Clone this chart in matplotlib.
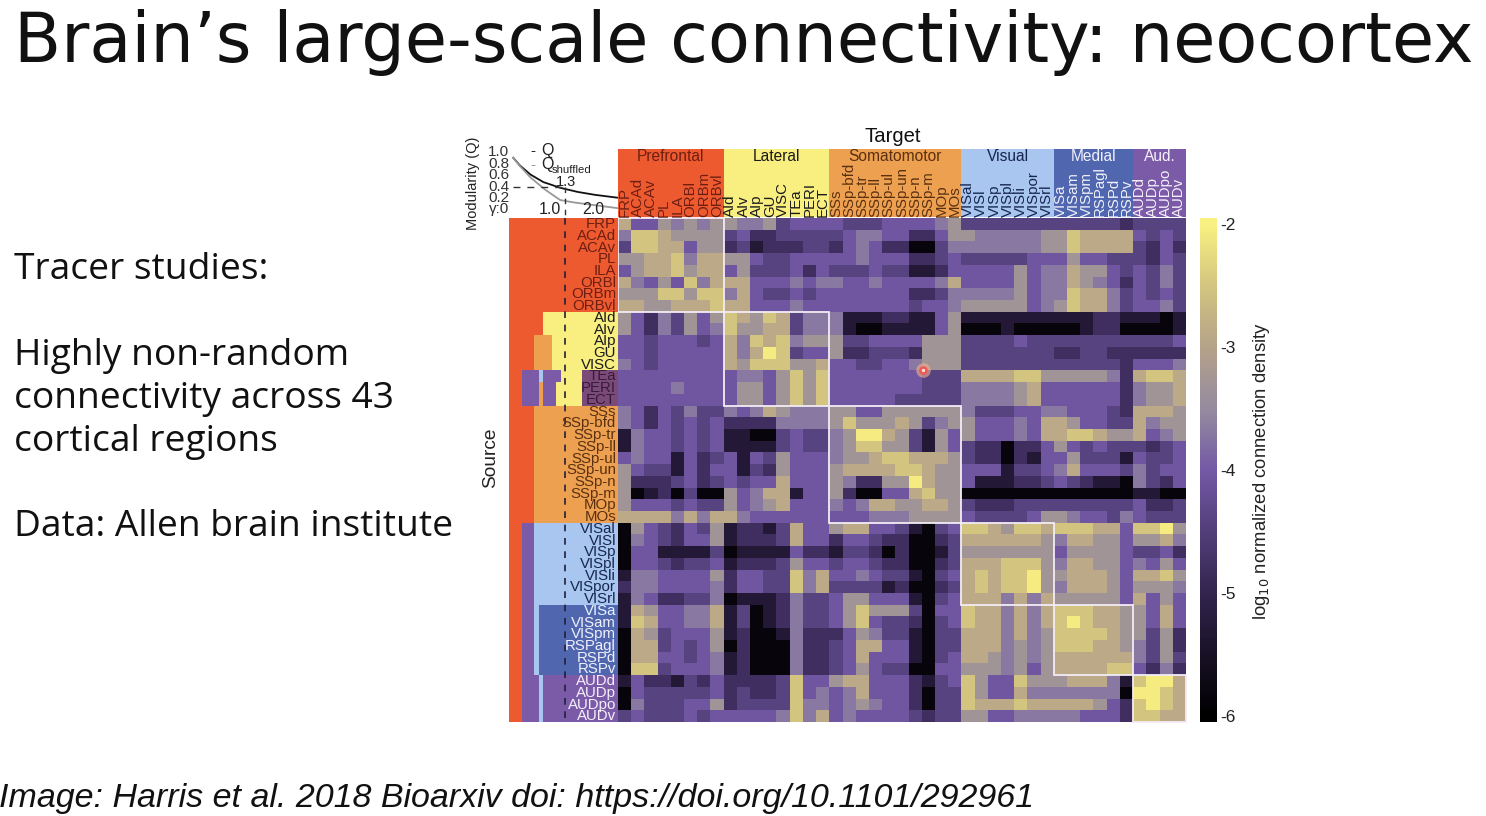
import numpy as np
import matplotlib
matplotlib.use('Agg')
import matplotlib.pyplot as plt
from matplotlib.colors import LinearSegmentedColormap
from matplotlib.patches import Rectangle

W, H = 1486, 816
OUTFILE = 'out.png'

# area labels, one list per module
prefrontal = ['FRP', 'ACAd', 'ACAv', 'PL', 'ILA', 'ORBl', 'ORBm', 'ORBvl']
lateral = ['AId', 'AIv', 'AIp', 'GU', 'VISC', 'TEa', 'PERI', 'ECT']
somatomotor = ['SSs', 'SSp-bfd', 'SSp-tr', 'SSp-ll', 'SSp-ul', 'SSp-un', 'SSp-n', 'SSp-m', 'MOp', 'MOs']
visual = ['VISal', 'VISl', 'VISp', 'VISpl', 'VISli', 'VISpor', 'VISrl']
medial = ['VISa', 'VISam', 'VISpm', 'RSPagl', 'RSPd', 'RSPv']
auditory = ['AUDd', 'AUDp', 'AUDpo', 'AUDv']
module_names = ['Prefrontal', 'Lateral', 'Somatomotor', 'Visual', 'Medial', 'Aud.']

# log10 density for each digit used in the rows below
level_values = [-5.85, -5.3, -4.8, -4.42, -4.05, -3.7, -3.3, -2.9, -2.5, -2.05]

# connection density per source row, target columns grouped by module
prefrontal_rows = [
    '74465656 65563444 4333444456 3333333 333332 3333',
    '58876666 34223333 3455442246 6555556 687777 4343',
    '38877466 23122233 2454220035 5555556 687777 3242',
    '66778577 66433444 4454442234 3333344 464433 3243',
    '46778677 46333424 3334331124 4444645 576643 4353',
    '75464857 77444545 5445444457 4444645 576542 4353',
    '66688688 57433434 4444442235 5555645 587753 4343',
    '77667778 77444544 4444443445 6666645 687753 4453',
]
lateral_rows = [
    '64253646 87687355 5111221146 1111111 111221 1101',
    '64253645 86677355 5100111146 0001000 001220 0001',
    '44344434 75878566 6334444666 3333433 333333 3334',
    '44344444 75798344 6223332666 3333333 223322 2222',
    '54344444 76888667 4433445666 3333333 333332 4445',
    '44444444 45546868 4444444333 7777886 666652 7887',
    '44445444 46646868 4444444333 5555674 444442 5667',
    '44444444 46646868 4444433333 5555674 444442 5667',
]
somatomotor_rows = [
    '54243533 54576555 6644666666 5333445 544432 7776',
    '54243434 22225555 6866676356 6444547 764433 7566',
    '15443434 11003433 5699763164 6444547 788766 7456',
    '15443434 11113433 5688663164 3220224 643433 3234',
    '45441423 41436444 5667887776 3220214 463331 4334',
    '64331424 41326444 6777788766 4441334 574443 5344',
    '62223423 43447444 6522669766 4111223 432110 5324',
    '60120300 64577144 6200447866 0000000 000000 1100',
    '64443433 64567444 5457766776 3222333 333333 4223',
    '77775757 75444444 4445556666 4333346 654435 4333',
]
visual_rows = [
    '06432436 12213744 6774431034 8876887 888774 8896',
    '05432446 12223744 2443220023 7777776 577664 6675',
    '04411113 01111422 1332020013 6666666 466664 3342',
    '04432334 12223644 3443220023 7778886 577664 5464',
    '15544446 24433857 4454331034 7878896 677764 7786',
    '25544445 24433857 3333120023 7878896 577764 6665',
    '15422335 01112533 4664441034 7775757 666664 7464',
]
medial_rows = [
    '17644557 13012533 4686663044 8775757 888776 6474',
    '18744557 13012533 4684332034 8775757 898776 6474',
    '07634446 12001522 2465331033 7775756 888876 6362',
    '07734346 02000522 3477441033 7775656 888776 5362',
    '07744345 12000522 3474441034 7765656 777777 5363',
    '08834445 12000522 3464330044 6665646 777788 4252',
]
auditory_rows = [
    '14221324 22223844 6774442134 8644866 677751 8997',
    '04333334 23223845 4574442033 8644755 555550 9987',
    '05333446 23333855 4565442033 8777877 777642 8987',
    '34333434 44445857 4544443233 6644555 554442 8877',
]

# modularity against resolution parameter gamma
gamma_q = [0.1, 0.25, 0.5, 0.8, 1.2, 1.6, 2.0, 2.53]
q_real = [0.90, 0.77, 0.61, 0.48, 0.38, 0.31, 0.26, 0.21]
gamma_shuffled = [0.1, 0.25, 0.5, 0.84, 1.19, 1.5, 1.8, 2.53]
q_shuffled = [0.90, 0.76, 0.56, 0.35, 0.17, 0.13, 0.10, 0.03]

colorbar_ticks = [-2, -3, -4, -5, -6]

RED = '#ee5a30'
YELLOW = '#f9ef80'
ORANGE = '#eda050'
LIGHT_BLUE = '#a8c6f0'
BLUE = '#5067b0'
PURPLE = '#7b5ba8'
MAUVE = '#7a4a78'

module_colors = [RED, YELLOW, ORANGE, LIGHT_BLUE, BLUE, PURPLE]
module_text = ['#6e1f12', '#1a1a1a', '#5a3010', '#16264f', '#f0f0fa', '#f4f0fa']

# community colours along the dendrogram: (first row, last row, gamma from, gamma to, colour)
dendro_bands = [
    (0, 7, 0.0, 2.53, RED),
    (8, 9, 0.0, 0.79, RED),
    (8, 9, 0.79, 2.53, YELLOW),
    (10, 12, 0.0, 0.58, RED),
    (10, 12, 0.58, 1.0, ORANGE),
    (10, 12, 1.0, 2.53, YELLOW),
    (13, 13, 0.0, 0.3, RED),
    (13, 13, 0.3, 0.7, PURPLE),
    (13, 13, 0.7, 0.79, LIGHT_BLUE),
    (13, 13, 0.79, 1.2, PURPLE),
    (13, 13, 1.2, 1.7, YELLOW),
    (14, 15, 0.0, 0.3, RED),
    (14, 15, 0.3, 0.7, PURPLE),
    (14, 15, 0.7, 0.79, ORANGE),
    (14, 15, 0.79, 1.09, PURPLE),
    (14, 15, 1.09, 1.7, YELLOW),
    (13, 15, 1.7, 2.53, MAUVE),
    (16, 25, 0.0, 0.58, RED),
    (16, 25, 0.58, 2.53, ORANGE),
    (26, 38, 0.0, 0.3, RED),
    (26, 38, 0.3, 0.58, PURPLE),
    (26, 38, 0.58, 2.53, LIGHT_BLUE),
    (33, 38, 0.7, 2.53, BLUE),
    (39, 42, 0.0, 0.3, RED),
    (39, 42, 0.3, 0.7, PURPLE),
    (39, 42, 0.7, 0.79, LIGHT_BLUE),
    (39, 42, 0.79, 2.53, PURPLE),
]


def px_axes(fig, x0, y0, x1, y1, **kwargs):
    # axes placed by pixel box, y measured from the top
    return fig.add_axes([x0 / W, 1 - y1 / H, (x1 - x0) / W, (y1 - y0) / H], **kwargs)


def px_text(fig, x, y, s, **kwargs):
    return fig.text(x / W, 1 - y / H, s, **kwargs)


modules = [prefrontal, lateral, somatomotor, visual, medial, auditory]
sizes = [len(m) for m in modules]
edges = np.cumsum([0] + sizes)
areas = sum(modules, [])
all_rows = prefrontal_rows + lateral_rows + somatomotor_rows + visual_rows + medial_rows + auditory_rows
levels = np.array([[int(c) for c in r.replace(' ', '')] for r in all_rows])
density = np.array(level_values)[levels]

cmap = LinearSegmentedColormap.from_list('density', [
    (0.00, '#000000'), (0.25, '#33254f'), (0.50, '#7459a6'),
    (0.62, '#948aa0'), (0.75, '#b5a28a'), (0.88, '#d4c680'), (1.00, '#f9f082'),
])

plt.rcParams['font.family'] = ['Liberation Sans', 'DejaVu Sans']
fig = plt.figure(figsize=(W / 100, H / 100), dpi=100, facecolor='white')

# connection matrix
ax = px_axes(fig, 618, 218, 1186, 722)
im = ax.imshow(density, cmap=cmap, vmin=-6, vmax=-2, aspect='auto', interpolation='nearest',
               extent=(0, len(areas), len(areas), 0))
ax.axis('off')
for i in range(len(sizes)):
    ax.add_patch(Rectangle((edges[i], edges[i]), sizes[i], sizes[i], fill=False,
                           edgecolor='#f3ecf6', linewidth=1.3, clip_on=False, zorder=3))
# pointer left on the slide
ax.scatter([23.1], [12.97], s=110, color='#f4b08e', alpha=0.6, linewidths=0, zorder=4)
ax.scatter([23.1], [12.97], s=38, color='#ec5a56', linewidths=0, zorder=5)
ax.scatter([23.1], [12.97], s=6, color='#fbdcd0', linewidths=0, zorder=6)

# module colour strip over the target columns
ax_top = px_axes(fig, 618, 149, 1186, 217)
ax_top.set_xlim(0, len(areas))
ax_top.set_ylim(0, 1)
ax_top.axis('off')
ax_top.bar(edges[:-1], np.ones(len(sizes)), width=sizes, align='edge', color=module_colors, linewidth=0)
for i, name in enumerate(module_names):
    ax_top.text(edges[i] + sizes[i] / 2, 0.885, name, ha='center', va='center',
                fontsize=11.2, color=module_text[i])
    for j, label in enumerate(modules[i]):
        ax_top.text(edges[i] + j + 0.5, 0.0, label, rotation=90, ha='center', va='bottom',
                    fontsize=10.8, color=module_text[i])

# dendrogram bands next to the source rows
ax_left = px_axes(fig, 509, 218, 618, 722)
ax_left.set_xlim(0, 2.535)
ax_left.set_ylim(len(areas), 0)
ax_left.axis('off')
for first, last, g0, g1, color in dendro_bands:
    ax_left.barh(first, g1 - g0, left=g0, height=last - first + 1, align='edge', color=color, linewidth=0)
ax_left.plot([1.3, 1.3], [0, len(areas)], color='#20203a', linewidth=1.2, dashes=(4, 4), zorder=4)
row_colors = np.repeat(module_text, sizes).tolist()
row_colors[13:16] = ['#3a1a3a'] * 3
row_colors[33] = '#e8f4ff'
for i, label in enumerate(areas):
    ax_left.text(2.49, i + 0.52, label, ha='right', va='center', fontsize=10.8,
                 color=row_colors[i], zorder=5)

# modularity curves above the dendrogram
ax_q = px_axes(fig, 509, 152, 618, 218)
ax_q.set_xlim(0, 2.535)
ax_q.set_ylim(-0.14, 1.0)
ax_q.axis('off')
ax_q.plot(gamma_q, q_real, color='#111111', linewidth=1.3)
ax_q.plot(gamma_shuffled, q_shuffled, color='#999999', linewidth=1.3)
ax_q.plot([0.1, 1.3], [0.4, 0.4], color='#333333', linewidth=1.0, dashes=(5, 5))
ax_q.plot([1.3, 1.3], [0.4, -0.14], color='#333333', linewidth=1.0, dashes=(4, 4))

for label, y in zip(['1.0', '0.8', '0.6', '0.4', '0.2'], [152, 163.5, 175, 187, 198]):
    px_text(fig, 509, y, label, ha='right', va='center', fontsize=11, color='#333333')
px_text(fig, 509, 209, '\u03b3:0', ha='right', va='center', fontsize=11, color='#333333')
px_text(fig, 550, 209, '1.0', ha='center', va='center', fontsize=11.5, color='#222222')
px_text(fig, 593, 209, '2.0', ha='center', va='center', fontsize=11.5, color='#222222')
px_text(fig, 566, 182, '1.3', ha='center', va='center', fontsize=10.5, color='#222222')
px_text(fig, 530, 151, '-', ha='left', va='center', fontsize=11, color='#222222')
px_text(fig, 541, 151, 'Q', ha='left', va='center', fontsize=11.5, color='#222222')
px_text(fig, 530, 165, '-', ha='left', va='center', fontsize=11, color='#999999')
px_text(fig, 541, 165, 'Q', ha='left', va='center', fontsize=11.5, color='#222222')
px_text(fig, 552, 170, 'shuffled', ha='left', va='center', fontsize=8.2, color='#222222')
px_text(fig, 473, 183, 'Modularity (Q)', rotation=90, ha='center', va='center', fontsize=10.5, color='#222222')

px_text(fig, 893, 137, 'Target', ha='center', va='center', fontsize=14.6, color='#111111')
px_text(fig, 491, 458, 'Source', rotation=90, ha='center', va='center', fontsize=13.8, color='#222222')

# colour bar
ax_cb = px_axes(fig, 1200, 218, 1217, 722)
gradient = np.linspace(-1.95, -6.05, 256).reshape(-1, 1)
ax_cb.imshow(gradient, cmap=cmap, vmin=-6, vmax=-2, aspect='auto', extent=(0, 1, -6.05, -1.95))
ax_cb.set_xticks([])
ax_cb.yaxis.tick_right()
ax_cb.set_yticks(colorbar_ticks)
ax_cb.set_yticklabels([str(t) for t in colorbar_ticks], fontsize=12.5, color='#222222')
ax_cb.tick_params(axis='y', length=0, pad=2)
for spine in ax_cb.spines.values():
    spine.set_visible(False)
px_text(fig, 1261, 471, r'log$_{10}$ normalized connection density', rotation=90, ha='center', va='center',
        fontsize=13.3, color='#222222')

# slide text
px_text(fig, 14, 43, 'Brain\u2019s large-scale connectivity: neocortex', ha='left', va='center',
        fontsize=49.45, color='#111111', family=['DejaVu Sans'])
body = [('Tracer studies:', 270), ('Highly non-random', 356), ('connectivity across 43', 399),
        ('cortical regions', 442), ('Data: Allen brain institute', 527)]
for line, y in body:
    px_text(fig, 14, y, line, ha='left', va='center', fontsize=26.7, color='#111111', family=['Open Sans'])
px_text(fig, -1, 799, 'Image: Harris et al. 2018 Bioarxiv doi: https://doi.org/10.1101/292961', ha='left',
        va='center', fontsize=24.47, style='italic', color='#111111', family=['Liberation Sans'])

fig.savefig(OUTFILE, dpi=100)
